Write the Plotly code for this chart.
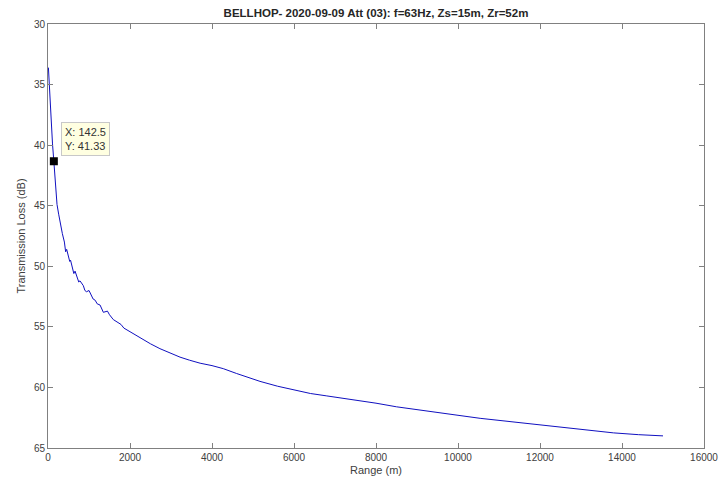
import plotly.graph_objects as go

# Range (m) and transmission loss (dB)
range_m = [10, 30, 50, 80, 110, 142.5, 180, 220, 260, 300, 350, 400, 430, 455, 500,
           530, 550, 600, 630, 660, 720, 750, 780, 862, 900, 940, 1000, 1065, 1100,
           1150, 1200, 1270, 1320, 1350, 1450, 1500, 1593, 1700, 1780, 1850, 2000,
           2150, 2325, 2500, 2730, 3000, 3220, 3450, 3710, 4000, 4275, 4600, 4900,
           5170, 5600, 5980, 6400, 6800, 7450, 8000, 8500, 9000, 9500, 10000, 10540,
           11350, 12160, 12600, 12980, 13400, 13790, 14400, 15000]
tl_db = [33.6, 35.0, 36.4, 38.4, 39.9, 41.33, 43.3, 44.9, 45.7, 46.5, 47.3, 48.0, 48.8, 48.6, 49.2,
         49.6, 49.5, 50.2, 50.6, 50.4, 51.0, 51.3, 51.2, 51.6, 52.0, 52.1, 52.0, 52.5, 52.7,
         52.8, 53.1, 53.2, 53.6, 53.8, 53.7, 54.0, 54.4, 54.6, 54.8, 55.1, 55.4,
         55.7, 56.1, 56.4, 56.8, 57.2, 57.5, 57.75, 58.0, 58.2, 58.45, 58.85, 59.2,
         59.5, 59.9, 60.2, 60.5, 60.7, 61.0, 61.3, 61.6, 61.85, 62.1, 62.3, 62.55,
         62.85, 63.2, 63.3, 63.47, 63.6, 63.75, 63.9, 64.0]

tip_x = 142.5
tip_y = 41.33

title_text = "BELLHOP- 2020-09-09 Att (03): f=63Hz, Zs=15m, Zr=52m"
x_ticks = [0, 2000, 4000, 6000, 8000, 10000, 12000, 14000, 16000]
y_ticks = [30, 35, 40, 45, 50, 55, 60, 65]

axis_col = "#808080"
text_col = "#404040"
font_fam = "Liberation Sans, Arial, sans-serif"

fig = go.Figure()
fig.add_trace(go.Scatter(x=range_m, y=tl_db, mode="lines",
                         line=dict(color="#1010c0", width=1), showlegend=False,
                         hoverinfo="skip"))
fig.add_trace(go.Scatter(x=[tip_x], y=[tip_y], mode="markers",
                         marker=dict(symbol="square", size=8, color="black"),
                         showlegend=False, hoverinfo="skip"))

fig.add_annotation(x=tip_x, y=tip_y, xref="x", yref="y",
                   text=f"X: {tip_x}<br>Y: {tip_y}", showarrow=False,
                   xanchor="left", yanchor="bottom", xshift=7, yshift=5,
                   align="left", bgcolor="#ffffe1", bordercolor="#c8c8c8",
                   borderwidth=1, borderpad=3,
                   font=dict(family=font_fam, size=11, color="#333333"))

fig.update_layout(
    width=721, height=484,
    margin=dict(l=48, r=17, t=24, b=36),
    paper_bgcolor="white", plot_bgcolor="white",
    title=dict(text="<b>" + title_text + "</b>", x=376 / 721, xanchor="center",
               y=1 - 13 / 484, yanchor="middle",
               font=dict(family=font_fam, size=11.5, color="#262626")),
    font=dict(family=font_fam, size=10, color=text_col),
)
fig.update_xaxes(range=[0, 16000], tickvals=x_ticks, ticktext=[str(v) for v in x_ticks],
                 ticks="inside", ticklen=5, tickcolor=axis_col, showline=True,
                 linecolor=axis_col, linewidth=1, mirror="ticks", showgrid=False,
                 zeroline=False, automargin=False,
                 title=dict(text="Range (m)", standoff=4,
                            font=dict(size=11, color=text_col)))
fig.update_yaxes(range=[65, 30], tickvals=y_ticks, ticktext=[str(v) for v in y_ticks],
                 ticks="inside", ticklen=5, tickcolor=axis_col, showline=True,
                 linecolor=axis_col, linewidth=1, mirror="ticks", showgrid=False,
                 zeroline=False, automargin=False,
                 title=dict(text="Transmission Loss (dB)", standoff=6,
                            font=dict(size=11, color=text_col)))

fig.write_html("out.html")
